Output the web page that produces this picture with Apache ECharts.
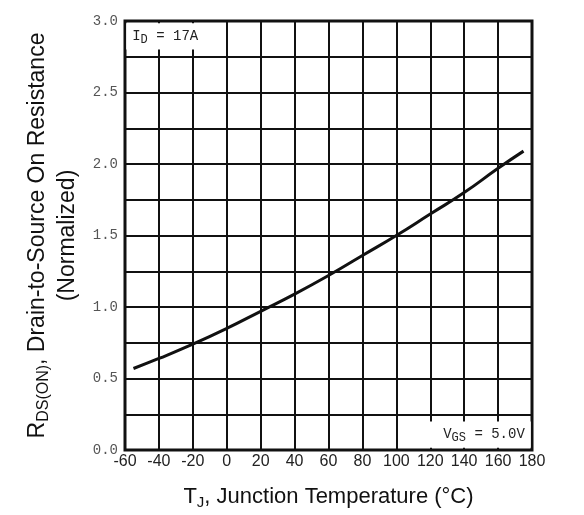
<!DOCTYPE html>
<html>
  <head>
    <meta charset="UTF-8" />
    <title>RDS(ON) vs Junction Temperature</title>
    <style>
      html, body { margin: 0; padding: 0; background: #fff; }
      #chart { width: 584px; height: 515px; }
    </style>
    <script type="text/javascript" src="https://cdn.jsdelivr.net/npm/echarts@6/dist/echarts.min.js"></script>
  </head>
  <body>
    <div id="chart"></div>
    <script>
      // junction temperature (°C) and normalized on-resistance
      const tempC = [-55, -40, -20, 0, 20, 40, 60, 80, 100, 120, 140, 160, 175];
      const rdsNorm = [0.57, 0.64, 0.74, 0.85, 0.97, 1.09, 1.22, 1.36, 1.5, 1.65, 1.8, 1.97, 2.09];

      const xTicks = { min: -60, max: 180, step: 20 };
      const yTicks = { min: 0, max: 3, step: 0.25, labelStep: 0.5 };

      const mono = "Liberation Mono";
      const sans = "Liberation Sans";

      const chart = echarts.init(document.getElementById("chart"));

      const option = {
        animation: false,
        grid: {
          left: 125,
          right: 52,
          top: 21,
          bottom: 62,
          show: true,
          borderColor: "#111",
          borderWidth: 3
        },
        xAxis: {
          type: "value",
          min: xTicks.min,
          max: xTicks.max,
          interval: xTicks.step,
          axisLine: { show: false },
          axisTick: { show: false },
          splitLine: { lineStyle: { color: "#111", width: 2 } },
          axisLabel: {
            fontFamily: sans,
            fontSize: 16,
            color: "#222",
            margin: 4,
            showMinLabel: true,
            showMaxLabel: true
          },
          name: "{n|T}{s|J}{n|, Junction Temperature (°C)}",
          nameLocation: "middle",
          nameGap: 33,
          nameTextStyle: {
            rich: {
              n: { fontFamily: sans, fontSize: 22, color: "#111" },
              s: { fontFamily: sans, fontSize: 15, color: "#111", padding: [12, 0, 0, 0] }
            }
          }
        },
        yAxis: {
          type: "value",
          min: yTicks.min,
          max: yTicks.max,
          interval: yTicks.step,
          axisLine: { show: false },
          axisTick: { show: false },
          splitLine: { lineStyle: { color: "#111", width: 2 } },
          axisLabel: {
            fontFamily: mono,
            fontSize: 14,
            color: "#555",
            margin: 7,
            formatter: function (v) {
              const k = Math.round(v / yTicks.labelStep * 1000) / 1000;
              return Number.isInteger(k) ? v.toFixed(1) : "";
            }
          },
          name: "{n|R}{s|DS(ON)}{n|, Drain-to-Source On Resistance}\n{n|(Normalized)}",
          nameLocation: "middle",
          nameGap: 42,
          nameTextStyle: {
            align: "center",
            rich: {
              n: { fontFamily: sans, fontSize: 23, color: "#111", lineHeight: 30, align: "center" },
              s: { fontFamily: sans, fontSize: 16, color: "#111", padding: [12, 0, 0, 0], lineHeight: 30 }
            }
          }
        },
        series: [
          {
            type: "line",
            data: tempC.map(function (t, i) { return [t, rdsNorm[i]]; }),
            smooth: 0.5,
            symbol: "none",
            lineStyle: { color: "#111", width: 3 },
            z: 5,
            markArea: {
              silent: true,
              itemStyle: { color: "#fff" },
              data: [
                [
                  {
                    coord: [-59.3, 2.8],
                    label: {
                      show: true,
                      position: "insideLeft",
                      distance: 6,
                      formatter: "{n|I}{s|D}{n| = 17A}",
                      rich: {
                        n: { fontFamily: mono, fontSize: 14, color: "#222" },
                        s: { fontFamily: mono, fontSize: 12, color: "#222", padding: [7, 0, 0, 0] }
                      }
                    }
                  },
                  { coord: [-1.5, 2.985] }
                ],
                [
                  {
                    coord: [102, 0.015],
                    label: {
                      show: true,
                      position: "insideRight",
                      distance: 6,
                      formatter: "{n|V}{s|GS}{n| = 5.0V}",
                      rich: {
                        n: { fontFamily: mono, fontSize: 14, color: "#222" },
                        s: { fontFamily: mono, fontSize: 12, color: "#222", padding: [7, 0, 0, 0] }
                      }
                    }
                  },
                  { coord: [179.3, 0.2] }
                ]
              ]
            }
          }
        ]
      };

      chart.setOption(option);
    </script>
  </body>
</html>
